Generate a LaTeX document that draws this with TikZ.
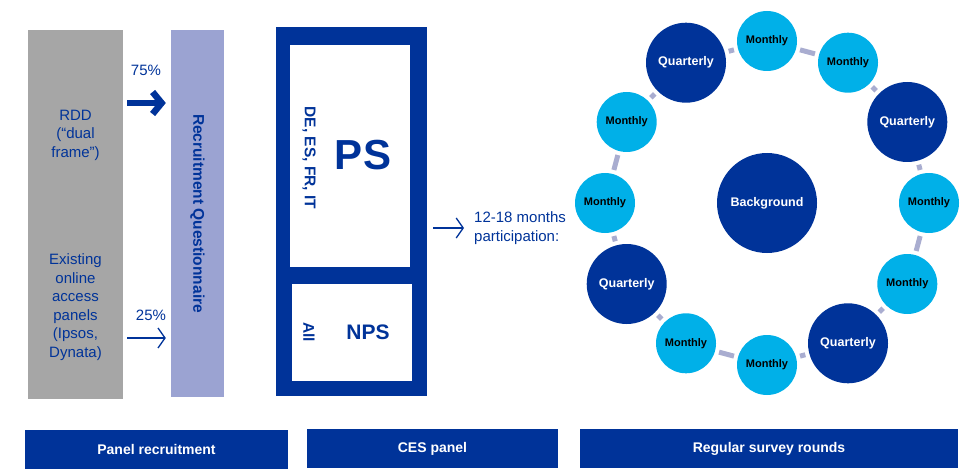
\documentclass[tikz,border=0pt]{standalone}
\usepackage{fontspec}
\setmainfont{Liberation Sans}
\usetikzlibrary{arrows.meta,backgrounds}
\definecolor{cesblue}{RGB}{0,51,153}
\definecolor{skyblue}{RGB}{0,176,232}
\definecolor{srcgray}{RGB}{166,166,166}
\definecolor{qlilac}{RGB}{155,163,210}
\definecolor{ringgray}{RGB}{169,173,208}
\begin{document}
\begin{tikzpicture}[x = 1pt, y = -1pt,
	footbar/.style = {fill = cesblue, text = white, font = \bfseries\fontsize{14}{16}\selectfont, minimum height = 39pt, inner sep = 0pt},
	mon/.style = {circle, fill = skyblue, minimum size = 60pt, inner sep = 0pt, font = \bfseries\fontsize{11}{12}\selectfont},
	qtr/.style = {circle, fill = cesblue, text = white, minimum size = 80pt, inner sep = 0pt, font = \bfseries\fontsize{12.5}{14}\selectfont},
	txt/.style = {text = cesblue, align = center, font = \fontsize{15}{18.5}\selectfont},
	boldtxt/.style = {text = cesblue, font = \bfseries\fontsize{15.5}{17}\selectfont},
	ringlink/.style = {ringgray, line width = 5pt, shorten <= 4pt, shorten >= 4pt},
	slimarrow/.style = {cesblue, line width = 1.3pt, -{Straight Barb[length = 7pt, width = 20pt]}},
	fatarrow/.style = {cesblue, line width = 6.5pt, -{Straight Barb[length = 9pt, width = 22pt]}}]
	\useasboundingbox (0,0) rectangle (960,473);
	% panel recruitment
	\node[fill = srcgray, minimum width = 95pt, minimum height = 369pt, inner sep = 0pt] (src) at (75.5,214.5) {};
	\node[txt] (rdd) at (75.5,135) {RDD\\(“dual\\frame”)};
	\node[txt] (oap) at (75.5,307) {Existing\\online\\access\\panels\\(Ipsos,\\Dynata)};
	\node[fill = qlilac, minimum width = 53pt, minimum height = 367pt, inner sep = 0pt] (rq) at (197.5,213.5) {};
	\node[boldtxt, rotate = -90] (rqtxt) at (rq) {Recruitment Questionnaire};
	\node[txt] (p75) at (146,70) {75\%};
	\node[txt] (p25) at (151,315) {25\%};
	\draw[fatarrow, shorten <= 4pt, shorten >= 5pt] (src.east |- 0,103) -- (rq.west |- 0,103);
	\draw[slimarrow, shorten <= 4pt, shorten >= 5pt] (src.east |- 0,338) -- (rq.west |- 0,338);
	% CES panel
	\node[fill = cesblue, minimum width = 151pt, minimum height = 369pt, inner sep = 0pt] (ces) at (351.5,211.5) {};
	\node[fill = white, minimum width = 120pt, minimum height = 222pt, inner sep = 0pt] (ps) at (350,156) {};
	\node[fill = white, minimum width = 120pt, minimum height = 97pt, inner sep = 0pt] (nps) at (352,332.5) {};
	\node[text = cesblue, font = \bfseries\fontsize{42}{44}\selectfont] (pstxt) at (363,155) {PS};
	\node[boldtxt, rotate = -90] (cntry) at (309,158) {DE, ES, FR, IT};
	\node[text = cesblue, font = \bfseries\fontsize{21}{24}\selectfont] (npstxt) at (368,332) {NPS};
	\node[boldtxt, rotate = -90] (all) at (309,332) {All};
	\node[txt, align = left, anchor = west, inner sep = 0pt] (part) at (474,228) {12-18 months\\participation:};
	\draw[slimarrow, shorten <= 6pt, shorten >= 10pt] (ces.east |- part.west) -- (part.west);
	% survey rounds
	\node[circle, fill = cesblue, text = white, minimum size = 100pt, inner sep = 0pt, font = \bfseries\fontsize{12.5}{14}\selectfont] (bg) at (767,203) {Background};
	\begin{scope}[shift = {(767,203)}]
		\foreach \i/\kind/\word in {0/mon/Monthly, 1/mon/Monthly, 2/qtr/Quarterly, 3/mon/Monthly, 4/mon/Monthly, 5/qtr/Quarterly, 6/mon/Monthly, 7/mon/Monthly, 8/qtr/Quarterly, 9/mon/Monthly, 10/mon/Monthly, 11/qtr/Quarterly}
			\node[\kind] (r\i) at (30*\i-90:162) {\word};
	\end{scope}
	\begin{pgfonlayer}{background}
		\foreach \i [evaluate = \i as \j using {int(mod(\i+1,12))}] in {0,...,11}
			\draw[ringlink] (r\i) -- (r\j);
	\end{pgfonlayer}
	% bottom bars
	\node[footbar, minimum width = 263pt] (b1) at (156.5,449.5) {Panel recruitment};
	\node[footbar, minimum width = 251pt] (b2) at (432.5,448.5) {CES panel};
	\node[footbar, minimum width = 378pt] (b3) at (769,448.5) {Regular survey rounds};
\end{tikzpicture}
\end{document}
